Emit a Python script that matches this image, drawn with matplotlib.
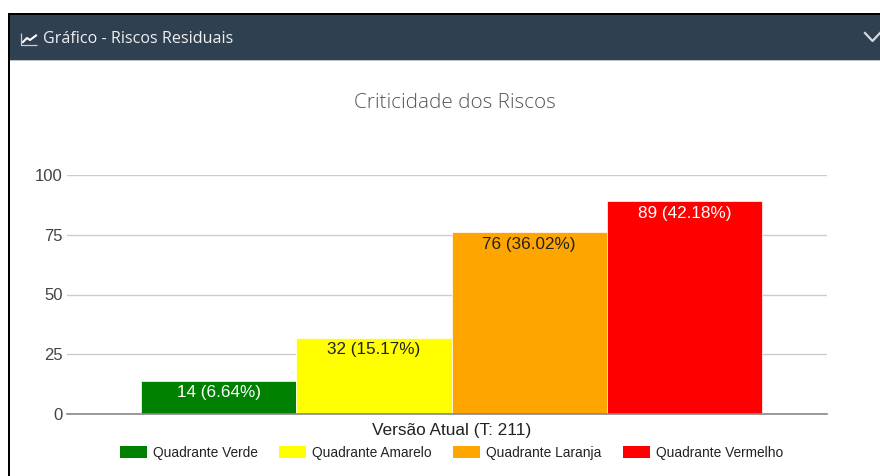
import matplotlib as mpl
import matplotlib.pyplot as plt
from matplotlib.patches import Patch, Rectangle

categories = ["Quadrante Verde", "Quadrante Amarelo", "Quadrante Laranja", "Quadrante Vermelho"]
counts = [14, 32, 76, 89]
bar_labels = ["14 (6.64%)", "32 (15.17%)", "76 (36.02%)", "89 (42.18%)"]
bar_colors = ["#008000", "#FFFF00", "#FFA500", "#FF0000"]
label_colors = ["white", "#222222", "#222222", "white"]
y_ticks = [0, 25, 50, 75, 100]

W, H = 880, 476


def px_axes(fig, left, top, right, bottom, **kw):
    return fig.add_axes(
        [left / W, 1 - bottom / H, (right - left) / W, (bottom - top) / H], **kw
    )


def draw_chrome(fig):
    # panel frame and dark header, in pixel coordinates
    bg = fig.add_axes([0, 0, 1, 1], zorder=0)
    bg.set_xlim(0, W)
    bg.set_ylim(H, 0)
    bg.axis("off")
    bg.add_patch(Rectangle((8, 13), W, 2, facecolor="black", edgecolor="none"))
    bg.add_patch(Rectangle((8, 13), 2, H, facecolor="black", edgecolor="none"))
    bg.add_patch(Rectangle((10, 15), W, 45, facecolor="#2F4050", edgecolor="none"))
    bg.add_patch(Rectangle((10, 60), W, 1, facecolor="#B8C2CC", edgecolor="none"))

    # chart icon
    bg.plot([20.5, 20.5, 37], [33, 44.5, 44.5], color="#C8CED4", lw=0.9, solid_capstyle="butt")
    bg.plot([23, 27, 30, 36], [42, 38, 40, 35.5], color="white", lw=1.5)
    # collapse chevron
    bg.plot([865, 872.5, 880], [33, 41, 33], color="#D5D9DD", lw=1.6)

    bg.text(43, 39, "Gráfico - Riscos Residuais", color="#EEF0F2", fontsize=11.6,
            family="Open Sans", ha="left", va="center")
    bg.text(455, 103, "Criticidade dos Riscos", color="#555555", fontsize=14.9,
            family="Open Sans", fontweight="light", ha="center", va="center")


def main():
    mpl.rcParams["font.family"] = ["Liberation Sans", "DejaVu Sans"]
    fig = plt.figure(figsize=(W / 100, H / 100), dpi=100, facecolor="white")
    draw_chrome(fig)

    ax = px_axes(fig, 67, 175, 827, 414, zorder=1)
    ax.patch.set_alpha(0)
    xs = list(range(len(counts)))
    bars = ax.bar(xs, counts, width=1.0, color=bar_colors, zorder=2, edgecolor="white", linewidth=0.5)
    ax.set_xlim(-0.977, 3.919)
    ax.set_ylim(0, 100)
    ax.set_yticks(y_ticks)
    ax.set_xticks([])
    ax.tick_params(axis="y", length=0, pad=3, labelsize=12, labelcolor="#444444")
    ax.grid(axis="y", color="#CCCCCC", lw=1, zorder=0)
    ax.set_axisbelow(True)
    for side in ["top", "right", "left"]:
        ax.spines[side].set_visible(False)
    ax.spines["bottom"].set_color("#888888")
    ax.spines["bottom"].set_linewidth(1.2)

    for bar, text, color in zip(bars, bar_labels, label_colors):
        ax.annotate(text, (bar.get_x() + bar.get_width() / 2, bar.get_height()),
                    xytext=(0, -3.5), textcoords="offset points", ha="center", va="top",
                    fontsize=12.3, color=color, zorder=3)

    fig.text(451.5 / W, 1 - 431 / H, "Versão Atual (T: 211)", ha="center", va="center",
             fontsize=12.4, color="#222222")

    handles = [Patch(facecolor=c, edgecolor="none") for c in bar_colors]
    fig.legend(handles, categories, ncol=4, loc="center", bbox_to_anchor=(451.5 / W, 1 - 453 / H),
               frameon=False, fontsize=9.95, handlelength=1.95, handleheight=0.94,
               handletextpad=0.43, columnspacing=1.55, labelcolor="#222222",
               borderpad=0, borderaxespad=0)

    fig.savefig("out.png", dpi=100, facecolor="white")
    plt.close(fig)


if __name__ == "__main__":
    main()
